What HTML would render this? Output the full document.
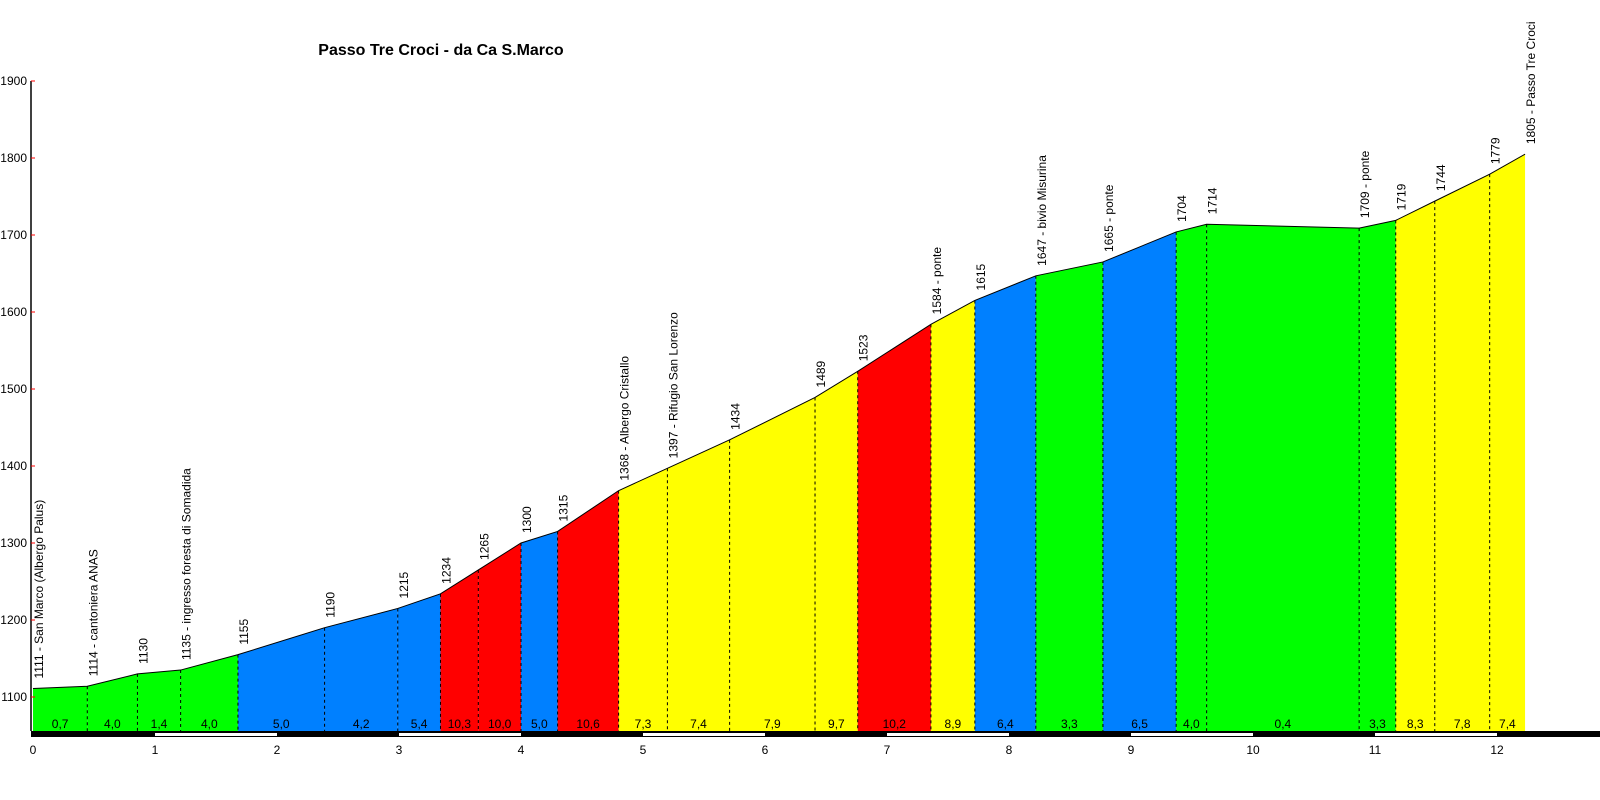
<!DOCTYPE html>
<html><head><meta charset="utf-8"><style>
html,body{margin:0;padding:0;background:#fff;}
svg{display:block;font-family:"Liberation Sans",Arial,sans-serif;}
</style></head><body>
<svg id="chart" width="1600" height="800" xmlns="http://www.w3.org/2000/svg">
<text x="441" y="55" text-anchor="middle" font-size="16" font-weight="bold">Passo Tre Croci - da Ca S.Marco</text>
</svg>
<script>
const kms = [0,0.445,0.856,1.21,1.68,2.39,2.99,3.34,3.65,4.0,4.3,4.8,5.2,5.71,6.41,6.76,7.36,7.72,8.22,8.77,9.37,9.62,10.87,11.17,11.49,11.94,12.23];
const elevs = [1111,1114,1130,1135,1155,1190,1215,1234,1265,1300,1315,1368,1397,1434,1489,1523,1584,1615,1647,1665,1704,1714,1709,1719,1744,1779,1805];
const names = ["San Marco (Albergo Palus)","cantoniera  ANAS","","ingresso foresta di Somadida","","","","","","","","Albergo Cristallo","Rifugio San Lorenzo","","","","ponte","","bivio Misurina","ponte","","","ponte","","","","Passo Tre Croci"];
const grades = ["0,7","4,0","1,4","4,0","5,0","4,2","5,4","10,3","10,0","5,0","10,6","7,3","7,4","7,9","9,7","10,2","8,9","6,4","3,3","6,5","4,0","0,4","3,3","8,3","7,8","7,4"];
const segColors = ["#00ff00","#00ff00","#00ff00","#00ff00","#0080ff","#0080ff","#0080ff","#ff0000","#ff0000","#0080ff","#ff0000","#ffff00","#ffff00","#ffff00","#ffff00","#ff0000","#ffff00","#0080ff","#00ff00","#0080ff","#00ff00","#00ff00","#00ff00","#ffff00","#ffff00","#ffff00"];
const yTicks = [1100,1200,1300,1400,1500,1600,1700,1800,1900];
const xTicks = [0,1,2,3,4,5,6,7,8,9,10,11,12];

const svg = document.getElementById('chart');
const NS = 'http://www.w3.org/2000/svg';
const X = km => 33 + km * 122;
const Y = e => 697 - (e - 1100) * 0.77;
const BASE = 731;
function mk(tag, attrs){const el=document.createElementNS(NS,tag);for(const k in attrs)el.setAttribute(k,attrs[k]);svg.appendChild(el);return el;}

// segments
for (let i = 0; i < grades.length; i++) {
  const x0=X(kms[i]), x1=X(kms[i+1]);
  const p = mk('polygon',{points:`${x0},${BASE} ${x0},${Y(elevs[i])} ${x1},${Y(elevs[i+1])} ${x1},${BASE}`,fill:segColors[i]});
  
  
  const t = mk('text',{x:(x0+x1)/2,y:728,'text-anchor':'middle','font-size':12});
  t.textContent = grades[i];
  
  
}
// outline
const line = mk('polyline',{points:kms.map((k,i)=>X(k)+','+Y(elevs[i])).join(' '),fill:'none',stroke:'#000','stroke-width':1});


// dashed separators and point labels
for (let i = 0; i < kms.length; i++) {
  const x=X(kms[i]), y=Y(elevs[i]);
  if (i>0 && i<kms.length-1) {
    const d = mk('line',{x1:x,y1:y,x2:x,y2:BASE,stroke:'#000','stroke-width':1,'stroke-dasharray':'3,3'});
    
    
  }
  const lx = x + (i===0 ? 10 : 10), ly = y - 10;
  const t = mk('text',{x:lx,y:ly,'font-size':12,transform:`rotate(-90 ${lx} ${ly})`});
  t.textContent = elevs[i] + (names[i] ? ' - ' + names[i] : '');
  
  
}
// y axis
const ya = mk('line',{x1:31,y1:Y(1900),x2:31,y2:BASE,stroke:'#000','stroke-width':1.5});


yTicks.forEach(v=>{
  const tk = mk('line',{x1:31,y1:Y(v),x2:35,y2:Y(v),stroke:'#f00','stroke-width':1});
  
  
  const t = mk('text',{x:27,y:Y(v)+4,'text-anchor':'end','font-size':12});
  t.textContent = v;
  
  
});
// x axis bar
const bar = mk('rect',{x:31,y:BASE,width:1569,height:6,fill:'#000'});


xTicks.forEach(k=>{
  if (k%2===1) {
    const w = mk('rect',{x:X(k),y:BASE+2,width:122,height:3,fill:'#fff'});
    
    
  }
  const t = mk('text',{x:X(k),y:754,'text-anchor':'middle','font-size':12});
  t.textContent = k;
  
  
});
</script>
</body></html>
